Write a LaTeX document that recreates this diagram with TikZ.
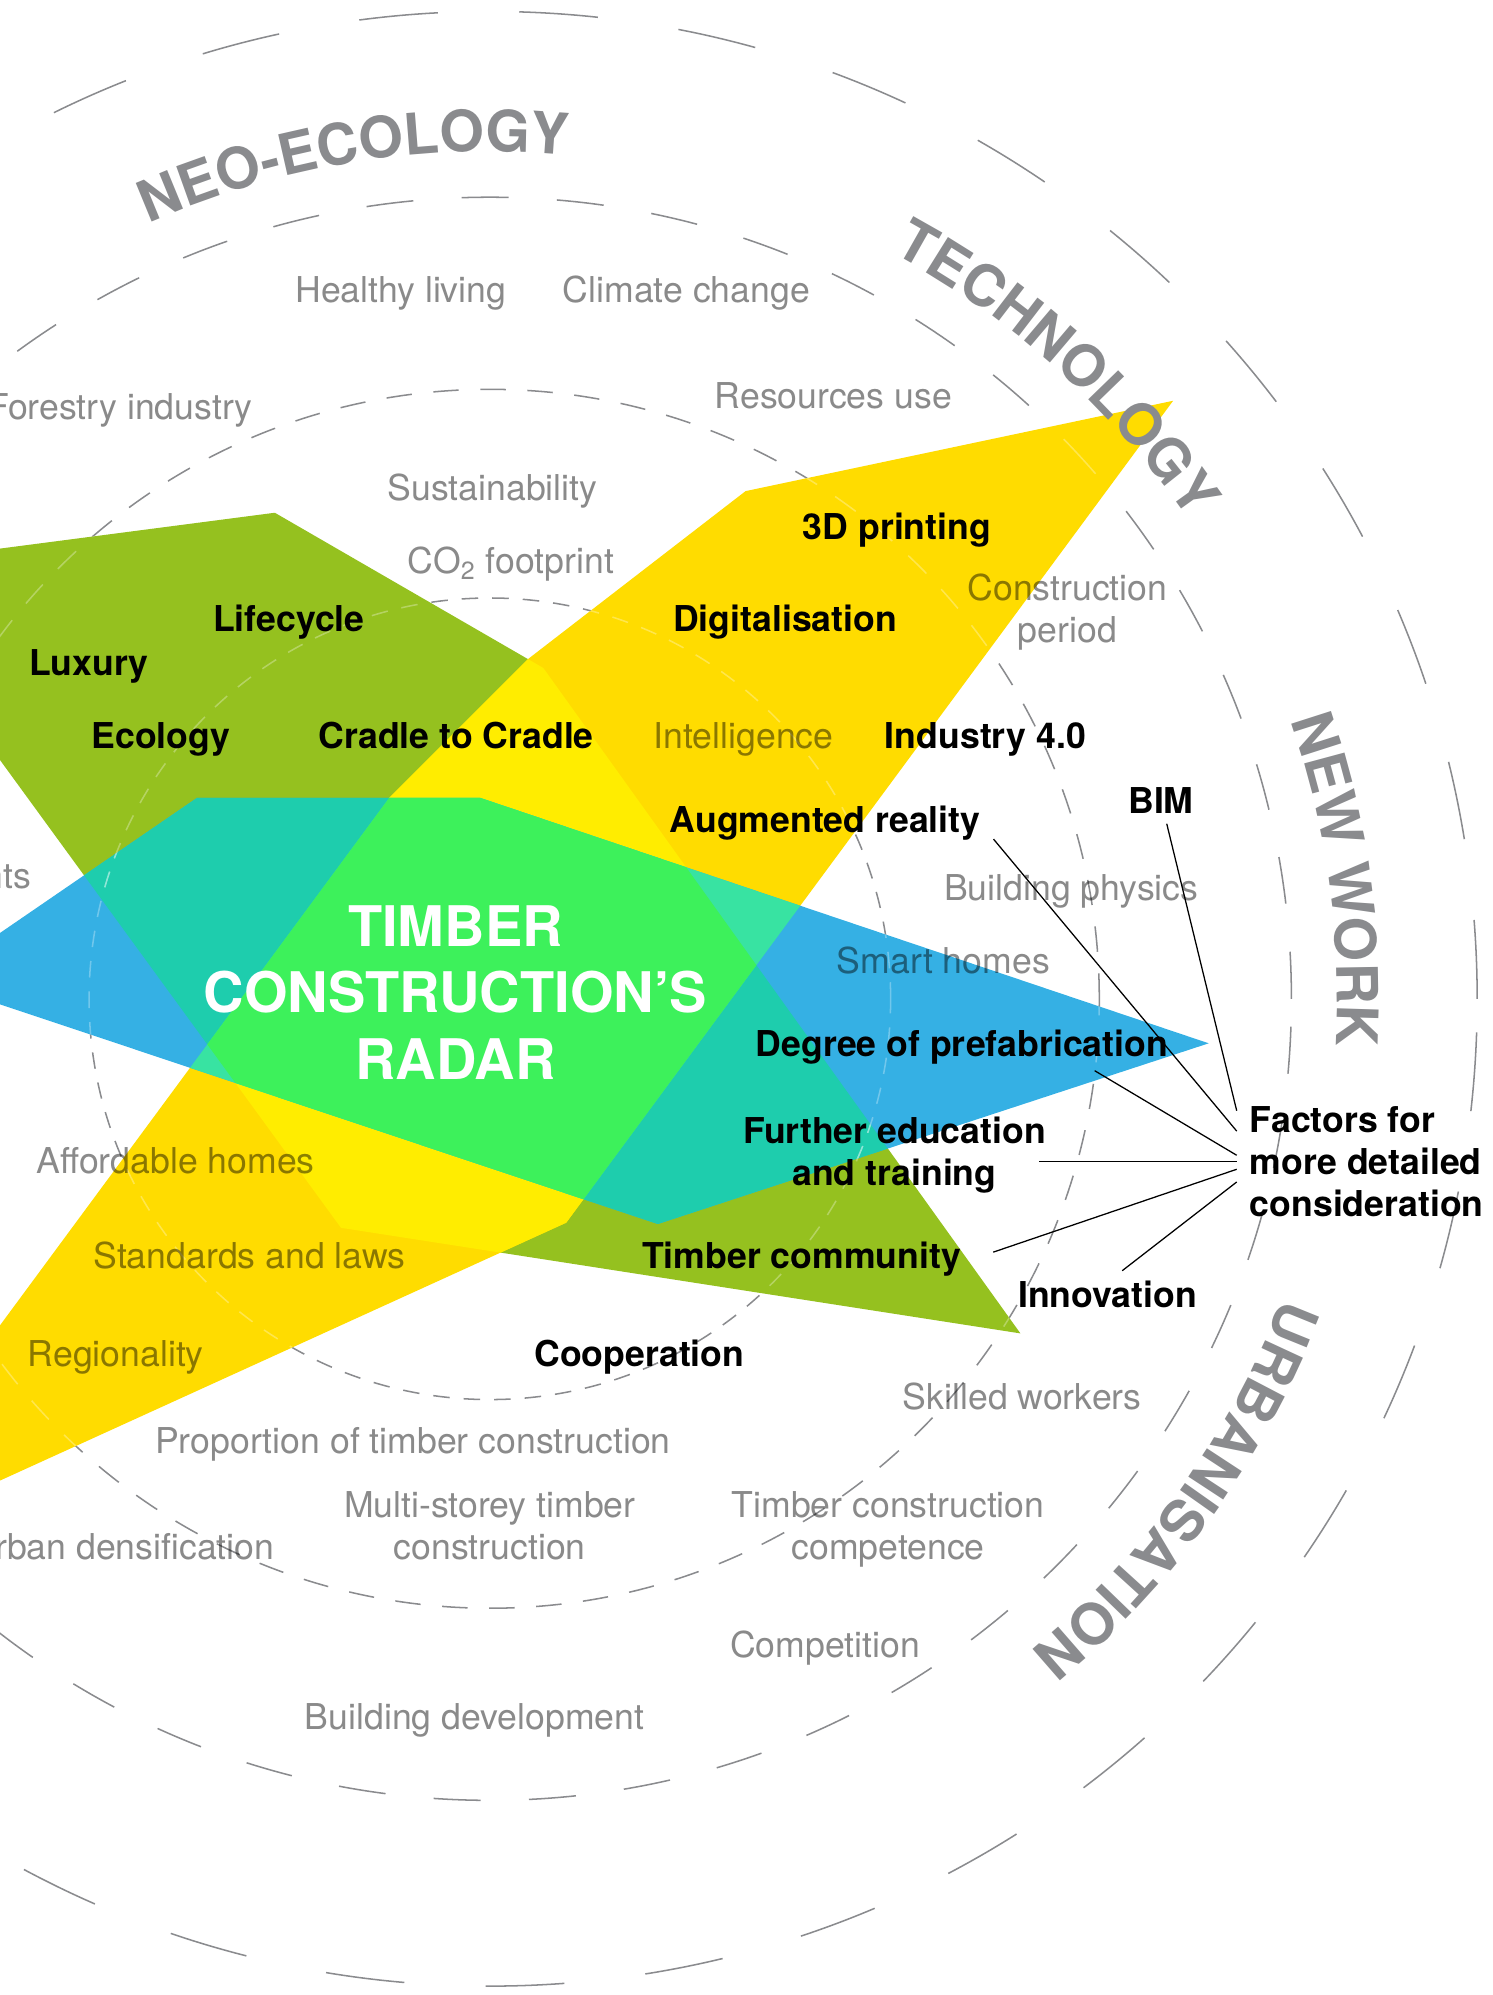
\documentclass[tikz,border=0pt]{standalone}
\usepackage{fontspec}
\setmainfont{TeX Gyre Heros}
\usetikzlibrary{calc,decorations.text}

\definecolor{ringgrey}{HTML}{8A8B8E}
\definecolor{leafgreen}{HTML}{95C11F}
\definecolor{sungold}{HTML}{FFDC00}
\definecolor{skyblue}{HTML}{35B0E4}
\definecolor{lemon}{HTML}{FFED00}
\definecolor{seateal}{HTML}{1ECDAD}
\definecolor{mintgreen}{HTML}{38E3A2}
\definecolor{neongreen}{HTML}{3DF15B}

\def\olivepath{(-60,-439) -- (216,-403) -- (427,-525) -- (802,-1048) -- (268,-965) -- (-60,-515) -- cycle}
\def\goldpath{(922,-315) -- (586,-386) -- (415,-518) -- (306,-627) -- (-60,-1123) -- (-60,-1191) -- (445,-961) -- cycle}
\def\bluepath{(-55,-771) -- (155,-627) -- (377,-627) -- (950,-820) -- (517,-962) -- cycle}
\def\radarrings#1{%
	\draw[#1, dash pattern=on 6.5pt off 5.5pt] (hub) circle[radius=315];
	\draw[#1, dash pattern=on 10pt off 8.5pt] (hub) circle[radius=479];
	\draw[#1, dash pattern=on 18.5pt off 19pt] (hub) circle[radius=630];
	\draw[#1, dash pattern=on 31pt off 32pt] (hub) circle[radius=776];}
\def\catfont{\fontsize{22.5}{22.5}\selectfont\bfseries}
\def\trendarc#1#2#3{\path[decorate, decoration={text along path, text align=center, text color=ringgrey, text={|\catfont|#3}}] (hub) ++(#1:666) arc[start angle=#1, end angle=#2, radius=666];}

\begin{document}
\begin{tikzpicture}[x=0.5pt, y=0.5pt,
	ring/.style={ringgrey, line width=0.6pt},
	softlabel/.style={text=black, text opacity=.46, font=\fontsize{14}{16.5}\selectfont, inner sep=0pt, align=center},
	keylabel/.style={text=black, font=\fontsize{14}{16.5}\selectfont\bfseries, inner sep=0pt, align=center},
	headline/.style={text=white, font=\fontsize{22}{26.25}\selectfont\bfseries, inner sep=0pt, align=center},
	pointer/.style={black, line width=0.5pt}]
	%%%%% START %%%%%
	\clip (0,0) rectangle (1173,-1568);
	\coordinate (hub) at (385,-785);
	
	\radarrings{ring}
	
	% trend shapes
	\fill[leafgreen] \olivepath;
	\fill[sungold] \goldpath;
	\fill[skyblue] \bluepath;
	\begin{scope}
		\clip \olivepath;
		\fill[lemon] \goldpath;
		\fill[seateal] \bluepath;
	\end{scope}
	\begin{scope}
		\clip \goldpath;
		\fill[mintgreen] \bluepath;
		\clip \olivepath;
		\fill[neongreen] \bluepath;
	\end{scope}
	
	% rings seen through the shapes
	\begin{scope}
		\clip \olivepath;
		\radarrings{white, opacity=.3, line width=0.6pt}
	\end{scope}
	\begin{scope}
		\clip \goldpath;
		\radarrings{white, opacity=.3, line width=0.6pt}
	\end{scope}
	\begin{scope}
		\clip \bluepath;
		\radarrings{white, opacity=.3, line width=0.6pt}
	\end{scope}
	
	% megatrends
	\trendarc{119.25}{79.25}{NEO-ECOLOGY}
	\trendarc{68}{28}{TECHNOLOGY}
	\trendarc{28}{-12}{NEW WORK}
	\trendarc{-15.5}{-55.5}{URBANISATION}
	
	% grey factors
	\node[softlabel, anchor=base] (healthy) at (315,-238) {Healthy living};
	\node[softlabel, anchor=base] (climate) at (539.5,-238) {Climate change};
	\node[softlabel, anchor=base east] (forestry) at (199,-330) {Forestry industry};
	\node[softlabel, anchor=base] (resources) at (655,-321) {Resources use};
	\node[softlabel, anchor=base] (sustain) at (387,-393) {Sustainability};
	\node[softlabel, anchor=base] (footprint) at (401.5,-451) {CO\textsubscript{2} footprint};
	\node[softlabel] (period) at (839,-481) {Construction\\period};
	\node[softlabel, anchor=base] (intellig) at (584.5,-588) {Intelligence};
	\node[softlabel, anchor=base east] (invest) at (25,-698) {nts};
	\node[softlabel, anchor=base] (physics) at (842,-708) {Building physics};
	\node[softlabel, anchor=base] (smart) at (741.5,-765) {Smart homes};
	\node[softlabel, anchor=base] (affordable) at (138,-922) {Affordable homes};
	\node[softlabel, anchor=base] (standards) at (196,-997) {Standards and laws};
	\node[softlabel, anchor=base] (regional) at (91,-1074) {Regionality};
	\node[softlabel, anchor=base] (skilled) at (803.5,-1108) {Skilled workers};
	\node[softlabel, anchor=base] (proportion) at (324.5,-1142) {Proportion of timber construction};
	\node[softlabel] (multistorey) at (385,-1199) {Multi-storey timber\\construction};
	\node[softlabel, anchor=base east] (urban) at (216,-1226) {Urban densification};
	\node[softlabel] (competence) at (698,-1202) {Timber construction\\competence};
	\node[softlabel, anchor=base] (competition) at (648.5,-1303) {Competition};
	\node[softlabel, anchor=base] (development) at (373,-1359) {Building development};
	
	% key factors
	\node[keylabel, anchor=base] (printing) at (705,-424) {3D printing};
	\node[keylabel, anchor=base] (lifecycle) at (227,-496) {Lifecycle};
	\node[keylabel, anchor=base] (digital) at (617,-496) {Digitalisation};
	\node[keylabel, anchor=base] (luxury) at (70,-531) {Luxury};
	\node[keylabel, anchor=base] (ecology) at (126.5,-588) {Ecology};
	\node[keylabel, anchor=base] (cradle) at (358.5,-588) {Cradle to Cradle};
	\node[keylabel, anchor=base] (industry) at (774.5,-588) {Industry 4.0};
	\node[keylabel, anchor=base] (augmented) at (648.5,-654) {Augmented reality};
	\node[keylabel, anchor=base] (bim) at (912.5,-639) {BIM};
	\node[keylabel, anchor=base] (prefab) at (756,-830) {Degree of prefabrication};
	\node[keylabel] (further) at (703,-908) {Further education\\and training};
	\node[keylabel, anchor=base] (community) at (630,-997) {Timber community};
	\node[keylabel, anchor=base] (innovation) at (870.5,-1028) {Innovation};
	\node[keylabel, anchor=base] (cooperation) at (502.5,-1074) {Cooperation};
	\node[keylabel, anchor=west, align=left] (factors) at (982,-913) {Factors for\\more detailed\\consideration};
	
	\node[headline] (radar) at (358,-780) {TIMBER\\CONSTRUCTION’S\\RADAR};
	
	% pointers
	\draw[pointer] ($(bim.south)+(4.5,-8)$) -- ($(factors.west)+(-10,40)$);
	\draw[pointer] ($(augmented.south east)+(10,1)$) -- ($(factors.west)+(-10,24)$);
	\draw[pointer] ($(prefab.south east)+(-58,-5)$) -- ($(factors.west)+(-10,5)$);
	\draw[pointer] ($(further.east)+(-5.5,-5)$) -- ($(factors.west)+(-10,0)$);
	\draw[pointer] ($(community.east)+(25,5.5)$) -- ($(factors.west)+(-10,-6)$);
	\draw[pointer] ($(innovation.north)+(11.5,8)$) -- ($(factors.west)+(-10,-16)$);
	
	%%%%% END %%%%%
\end{tikzpicture}
\end{document}
